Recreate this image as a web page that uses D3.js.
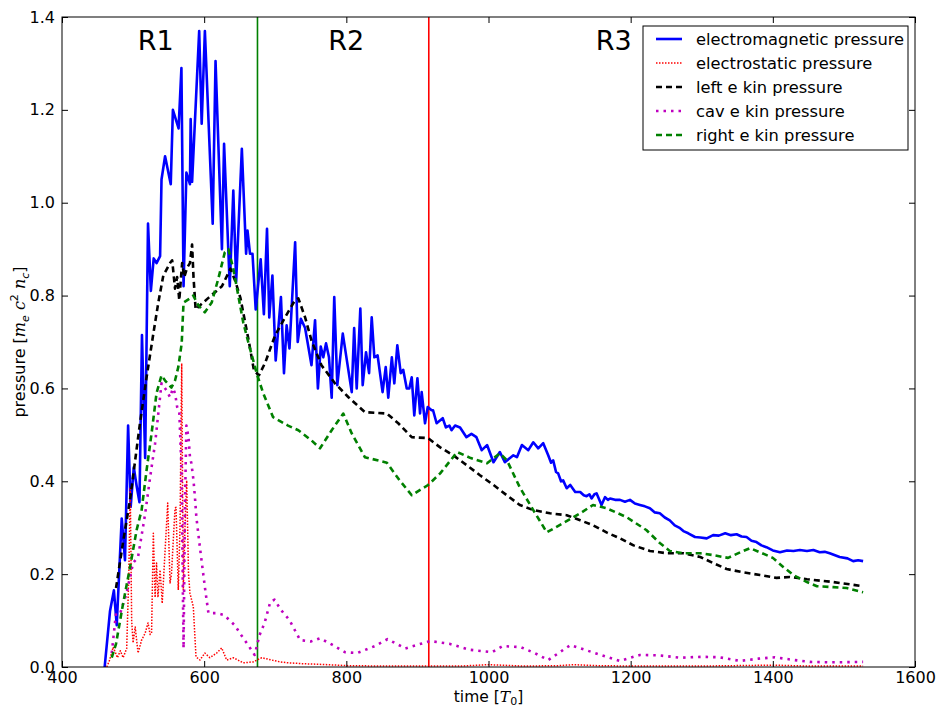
<!DOCTYPE html>
<html>
<head>
<meta charset="utf-8">
<script src="https://cdn.jsdelivr.net/npm/d3@7"></script>
<style>
  body { margin: 0; background: #fff; }
  text { font-family: "DejaVu Sans", sans-serif; }
</style>
</head>
<body>
<div id="chart"></div>
<script>
// time [T0], pressure pairs
const emPressure = [[460,0.0],[467.5,0.12],[473,0.165],[477,0.09],[484,0.32],[488.6,0.23],[493,0.52],[496.6,0.345],[501,0.43],[505,0.39],[509,0.355],[512.5,0.715],[517,0.45],[521,0.955],[525,0.81],[529,0.88],[533,0.87],[538,0.885],[540,1.05],[545,1.10],[553,1.04],[556,1.20],[564,1.16],[568,1.29],[571,0.82],[575,1.065],[580,1.04],[581,1.18],[583,1.045],[593,1.37],[596.5,1.17],[601,1.37],[612,0.955],[616,1.305],[625,0.90],[628,1.127],[636,0.82],[641,1.026],[645,0.83],[653,1.116],[659,0.89],[661,0.94],[664.5,0.89],[668,0.89],[672.5,0.77],[679.5,0.878],[684,0.76],[688.4,0.944],[691.6,0.753],[696,0.843],[700.6,0.66],[708,0.797],[712.3,0.633],[716,0.736],[720,0.686],[728,0.915],[731.6,0.70],[736,0.75],[742,0.73],[751,0.65],[756,0.747],[760,0.60],[764,0.69],[767.6,0.667],[771.4,0.697],[775.6,0.667],[779.4,0.58],[783,0.797],[787.3,0.607],[795,0.718],[807.6,0.592],[811,0.73],[814.6,0.60],[819.7,0.772],[823,0.607],[827.7,0.678],[832,0.633],[835.7,0.753],[839.4,0.667],[844,0.671],[851,0.592],[855.4,0.646],[859,0.58],[864,0.667],[867.5,0.611],[871.7,0.693],[876.5,0.633],[880,0.64],[885,0.60],[888.6,0.60],[892,0.624],[895.6,0.542],[900,0.622],[903.7,0.546],[906,0.592],[910.7,0.525],[914.5,0.56],[920,0.553],[922,0.553],[927,0.525],[935.6,0.536],[940,0.516],[945,0.52],[948,0.51],[953,0.52],[960,0.516],[969,0.495],[976,0.502],[983,0.495],[990.5,0.467],[998,0.478],[1007,0.441],[1016,0.463],[1023,0.441],[1035,0.456],[1040,0.452],[1047,0.478],[1056,0.467],[1063,0.484],[1070,0.471],[1077,0.482],[1084,0.456],[1088,0.44],[1091,0.445],[1095,0.42],[1098,0.417],[1102,0.4],[1105,0.402],[1110,0.385],[1115,0.392],[1122,0.377],[1129,0.377],[1134,0.37],[1138,0.368],[1142,0.372],[1145,0.363],[1149,0.372],[1152,0.374],[1159,0.349],[1164,0.366],[1168,0.36],[1171,0.363],[1178,0.36],[1185,0.36],[1192,0.356],[1199,0.36],[1206,0.352],[1213,0.349],[1220,0.346],[1227,0.342],[1234,0.333],[1241,0.331],[1248,0.322],[1255,0.316],[1262,0.305],[1269.5,0.299],[1275,0.292],[1281,0.288],[1290.5,0.28],[1298,0.279],[1307,0.277],[1316,0.284],[1324,0.283],[1333,0.288],[1341,0.284],[1349,0.286],[1356,0.281],[1363,0.28],[1370,0.272],[1377,0.269],[1384,0.262],[1391,0.258],[1400,0.251],[1410,0.247],[1420,0.251],[1429,0.25],[1438,0.252],[1448,0.25],[1457,0.252],[1466,0.247],[1473,0.248],[1480,0.245],[1494,0.237],[1505,0.234],[1513,0.228],[1520,0.23],[1527,0.228]];

const esPressure = [[463,0.0],[467,0.015],[472,0.043],[478,0.02],[482,0.035],[486,0.02],[491,0.04],[494,0.2],[496,0.387],[498,0.1],[500,0.052],[503,0.086],[507,0.03],[512,0.058],[517,0.073],[521,0.095],[524,0.07],[526,0.073],[528.5,0.288],[531,0.15],[533,0.224],[535,0.15],[538,0.209],[541,0.137],[545,0.25],[548.7,0.353],[552,0.181],[554,0.2],[559,0.342],[560.4,0.344],[563.6,0.166],[566,0.3],[568.4,0.654],[570.7,0.166],[573,0.3],[575.4,0.402],[578,0.2],[580,0.159],[584.7,0.13],[588.5,0.022],[594,0.015],[601,0.03],[608,0.02],[617.6,0.03],[624.7,0.041],[631.7,0.015],[641,0.02],[655,0.009],[669,0.011],[681,0.02],[695,0.015],[707,0.011],[718,0.009],[740,0.007],[760,0.006],[800,0.003],[850,0.002],[900,0.002],[960,0.002],[1000,0.005],[1050,0.002],[1100,0.003],[1120,0.005],[1150,0.003],[1200,0.002],[1300,0.002],[1400,0.004],[1450,0.002],[1527,0.002]];

const leftKin = [[476,0.17],[486,0.27],[495.7,0.36],[509.7,0.525],[519,0.624],[528.5,0.718],[535.5,0.785],[542.5,0.843],[552,0.87],[555,0.876],[559,0.815],[562,0.84],[565,0.79],[569,0.87],[572,0.84],[576,0.86],[580,0.87],[583,0.91],[585,0.84],[588,0.77],[595,0.78],[606,0.795],[625,0.82],[637,0.858],[644,0.83],[651,0.795],[663,0.70],[670,0.639],[677,0.628],[686,0.656],[699.7,0.714],[713.7,0.753],[727.8,0.79],[732.5,0.794],[742,0.753],[751,0.703],[765,0.65],[784,0.611],[803,0.581],[826,0.549],[857,0.546],[873,0.525],[892,0.495],[915,0.493],[932,0.473],[950.5,0.456],[969,0.435],[988,0.413],[1007,0.392],[1025.6,0.37],[1044,0.349],[1063,0.338],[1086.5,0.331],[1110,0.327],[1129,0.316],[1147.5,0.305],[1166,0.29],[1185,0.277],[1204,0.262],[1227,0.25],[1251,0.245],[1274,0.245],[1298,0.237],[1316,0.224],[1335,0.211],[1358,0.204],[1382,0.198],[1405,0.192],[1424,0.194],[1448,0.189],[1485,0.183],[1527,0.174]];

const cavKin = [[470,0.03],[476,0.116],[482,0.116],[491,0.16],[500,0.224],[507,0.237],[517,0.33],[524,0.409],[531,0.482],[540,0.611],[547,0.596],[552,0.581],[556,0.6],[559,0.59],[562,0.56],[565,0.55],[568,0.43],[571,0.04],[573,0.35],[575,0.52],[578,0.495],[580,0.452],[582,0.439],[585,0.402],[587,0.366],[589,0.323],[594,0.258],[601,0.172],[606,0.116],[618,0.116],[628,0.112],[643,0.09],[652,0.069],[662,0.047],[671,0.026],[678,0.069],[685,0.095],[693,0.14],[699,0.145],[708,0.123],[720,0.101],[735,0.058],[750,0.055],[763,0.062],[780,0.048],[798,0.032],[815,0.03],[840,0.045],[858,0.06],[883,0.04],[918,0.056],[945,0.05],[974,0.037],[1005,0.032],[1020,0.045],[1045,0.043],[1065,0.03],[1084,0.015],[1115,0.047],[1150,0.03],[1185,0.013],[1213,0.026],[1240,0.025],[1270,0.02],[1300,0.022],[1325,0.021],[1354,0.013],[1380,0.018],[1403,0.021],[1430,0.015],[1452,0.011],[1480,0.01],[1527,0.011]];

const rightKin = [[470,0.02],[476,0.05],[486,0.137],[495.7,0.215],[505,0.295],[512,0.338],[519,0.424],[526,0.503],[533,0.59],[540,0.628],[545,0.617],[554,0.602],[559,0.617],[563.6,0.646],[568.4,0.697],[570,0.753],[571,0.785],[580,0.794],[584.7,0.80],[591.8,0.779],[601,0.764],[610.6,0.785],[620,0.837],[629,0.893],[634,0.9],[641,0.858],[648,0.80],[655,0.742],[662,0.70],[674,0.632],[683,0.59],[697,0.538],[718,0.52],[732.5,0.51],[751,0.488],[763,0.471],[779.4,0.51],[795.7,0.546],[807.6,0.503],[826,0.452],[857,0.44],[875,0.402],[892,0.37],[915,0.392],[932,0.417],[956,0.463],[975,0.45],[998,0.439],[1016,0.46],[1026,0.445],[1044,0.387],[1063,0.338],[1082,0.29],[1105,0.31],[1129,0.331],[1147,0.349],[1166,0.342],[1194,0.323],[1222,0.295],[1241,0.267],[1255,0.25],[1274,0.245],[1298,0.245],[1316,0.241],[1337,0.235],[1354,0.247],[1368,0.256],[1382,0.247],[1400,0.235],[1415,0.215],[1429,0.198],[1448,0.183],[1462,0.174],[1485,0.172],[1504,0.17],[1527,0.161]];

const regionBounds = [675, 916];
const regionLabels = [{ name: "R1", t: 532 }, { name: "R2", t: 800 }, { name: "R3", t: 1176 }];
const xTicks = [400, 600, 800, 1000, 1200, 1400, 1600];
const yTicks = [0.0, 0.2, 0.4, 0.6, 0.8, 1.0, 1.2, 1.4];

const series = [
    { name: "electromagnetic pressure", data: emPressure, color: "#0000ff", width: 2.6, dash: null },
    { name: "electrostatic pressure", data: esPressure, color: "#ff0000", width: 1.5, dash: "1.5,1.5" },
    { name: "left e kin pressure", data: leftKin, color: "#000000", width: 2.6, dash: "6,4" },
    { name: "cav e kin pressure", data: cavKin, color: "#bf00bf", width: 2.6, dash: "2.5,5" },
    { name: "right e kin pressure", data: rightKin, color: "#008000", width: 2.6, dash: "6,4" }
];

const W = 936, H = 707;
const margin = { top: 17, right: 21, bottom: 40, left: 62 };
const width = W - margin.left - margin.right;
const height = H - margin.top - margin.bottom;

const svg = d3.select("#chart").append("svg")
    .attr("width", W)
    .attr("height", H);

const g = svg.append("g")
    .attr("transform", "translate(" + margin.left + "," + margin.top + ")");

const x = d3.scaleLinear().domain([400, 1600]).range([0, width]);
const y = d3.scaleLinear().domain([0, 1.4]).range([height, 0]);

g.append("clipPath").attr("id", "plotclip")
    .append("rect").attr("width", width).attr("height", height);

const plot = g.append("g").attr("clip-path", "url(#plotclip)");

// region boundaries
plot.append("line")
    .attr("x1", x(regionBounds[0])).attr("x2", x(regionBounds[0]))
    .attr("y1", 0).attr("y2", height)
    .attr("stroke", "#008000").attr("stroke-width", 1.6);
plot.append("line")
    .attr("x1", x(regionBounds[1])).attr("x2", x(regionBounds[1]))
    .attr("y1", 0).attr("y2", height)
    .attr("stroke", "#ff0000").attr("stroke-width", 1.6);

const line = d3.line()
    .x(d => x(d[0]))
    .y(d => y(d[1]));

series.forEach(function (s) {
    plot.append("path")
        .datum(s.data)
        .attr("fill", "none")
        .attr("stroke", s.color)
        .attr("stroke-width", s.width)
        .attr("stroke-dasharray", s.dash)
        .attr("stroke-linejoin", "round")
        .attr("d", line);
});

// region labels
g.selectAll("text.region")
    .data(regionLabels)
    .enter().append("text")
    .attr("class", "region")
    .attr("x", d => x(d.t))
    .attr("y", 33)
    .attr("text-anchor", "middle")
    .style("font-size", "27px")
    .text(d => d.name);

// axes, matplotlib classic: ticks inside on all four sides
const tickLen = 6;
const xAxisB = d3.axisBottom(x).tickValues(xTicks).tickSizeInner(-tickLen).tickSizeOuter(0).tickPadding(5).tickFormat(d3.format("d"));
const xAxisT = d3.axisTop(x).tickValues(xTicks).tickSizeInner(-tickLen).tickSizeOuter(0).tickFormat("");
const yAxisL = d3.axisLeft(y).tickValues(yTicks).tickSizeInner(-tickLen).tickSizeOuter(0).tickPadding(7).tickFormat(d3.format(".1f"));
const yAxisR = d3.axisRight(y).tickValues(yTicks).tickSizeInner(-tickLen).tickSizeOuter(0).tickFormat("");

g.append("g").attr("transform", "translate(0," + height + ")").call(xAxisB);
g.append("g").call(xAxisT);
g.append("g").call(yAxisL);
g.append("g").attr("transform", "translate(" + width + ",0)").call(yAxisR);

g.selectAll(".domain").remove();
g.selectAll(".tick line").attr("stroke", "#000");
g.selectAll(".tick text").style("font-size", "16px").attr("fill", "#000")
    .style("font-family", "'DejaVu Sans', sans-serif");

g.append("rect")
    .attr("width", width).attr("height", height)
    .attr("fill", "none").attr("stroke", "#000").attr("stroke-width", 1);

// axis labels
const xl = svg.append("text")
    .attr("x", margin.left + width / 2)
    .attr("y", 702)
    .attr("text-anchor", "middle")
    .style("font-size", "15.5px");
xl.append("tspan").text("time [");
xl.append("tspan").style("font-style", "italic").style("font-family", "'DejaVu Serif', serif").text("T");
xl.append("tspan").attr("dy", 3).style("font-size", "11px").text("0");
xl.append("tspan").attr("dy", -3).text("]");

const yl = svg.append("text")
    .attr("transform", "translate(25," + (margin.top + height / 2) + ") rotate(-90)")
    .attr("text-anchor", "middle")
    .style("font-size", "16px");
yl.append("tspan").text("pressure [");
yl.append("tspan").style("font-style", "italic").style("font-family", "'DejaVu Serif', serif").text("m");
yl.append("tspan").attr("dy", 4).style("font-size", "11px").style("font-style", "italic").text("e");
yl.append("tspan").attr("dy", -4).text(" ");
yl.append("tspan").style("font-style", "italic").style("font-family", "'DejaVu Serif', serif").text("c");
yl.append("tspan").attr("dy", -7).style("font-size", "11px").text("2");
yl.append("tspan").attr("dy", 7).text(" ");
yl.append("tspan").style("font-style", "italic").style("font-family", "'DejaVu Serif', serif").text("n");
yl.append("tspan").attr("dy", 4).style("font-size", "11px").style("font-style", "italic").text("c");
yl.append("tspan").attr("dy", -4).text("]");

// legend
const legend = svg.append("g").attr("transform", "translate(643,26)");
legend.append("rect")
    .attr("width", 265).attr("height", 124)
    .attr("fill", "#fff").attr("stroke", "#000").attr("stroke-width", 1);

const item = legend.selectAll("g.item")
    .data(series)
    .enter().append("g")
    .attr("class", "item")
    .attr("transform", (d, i) => "translate(0," + (13 + i * 24) + ")");

item.append("line")
    .attr("x1", 13).attr("x2", 39)
    .attr("stroke", d => d.color)
    .attr("stroke-width", d => d.width)
    .attr("stroke-dasharray", d => d.dash);

item.append("text")
    .attr("x", 53)
    .attr("dy", "0.35em")
    .style("font-size", "16.3px")
    .text(d => d.name);
</script>
</body>
</html>
